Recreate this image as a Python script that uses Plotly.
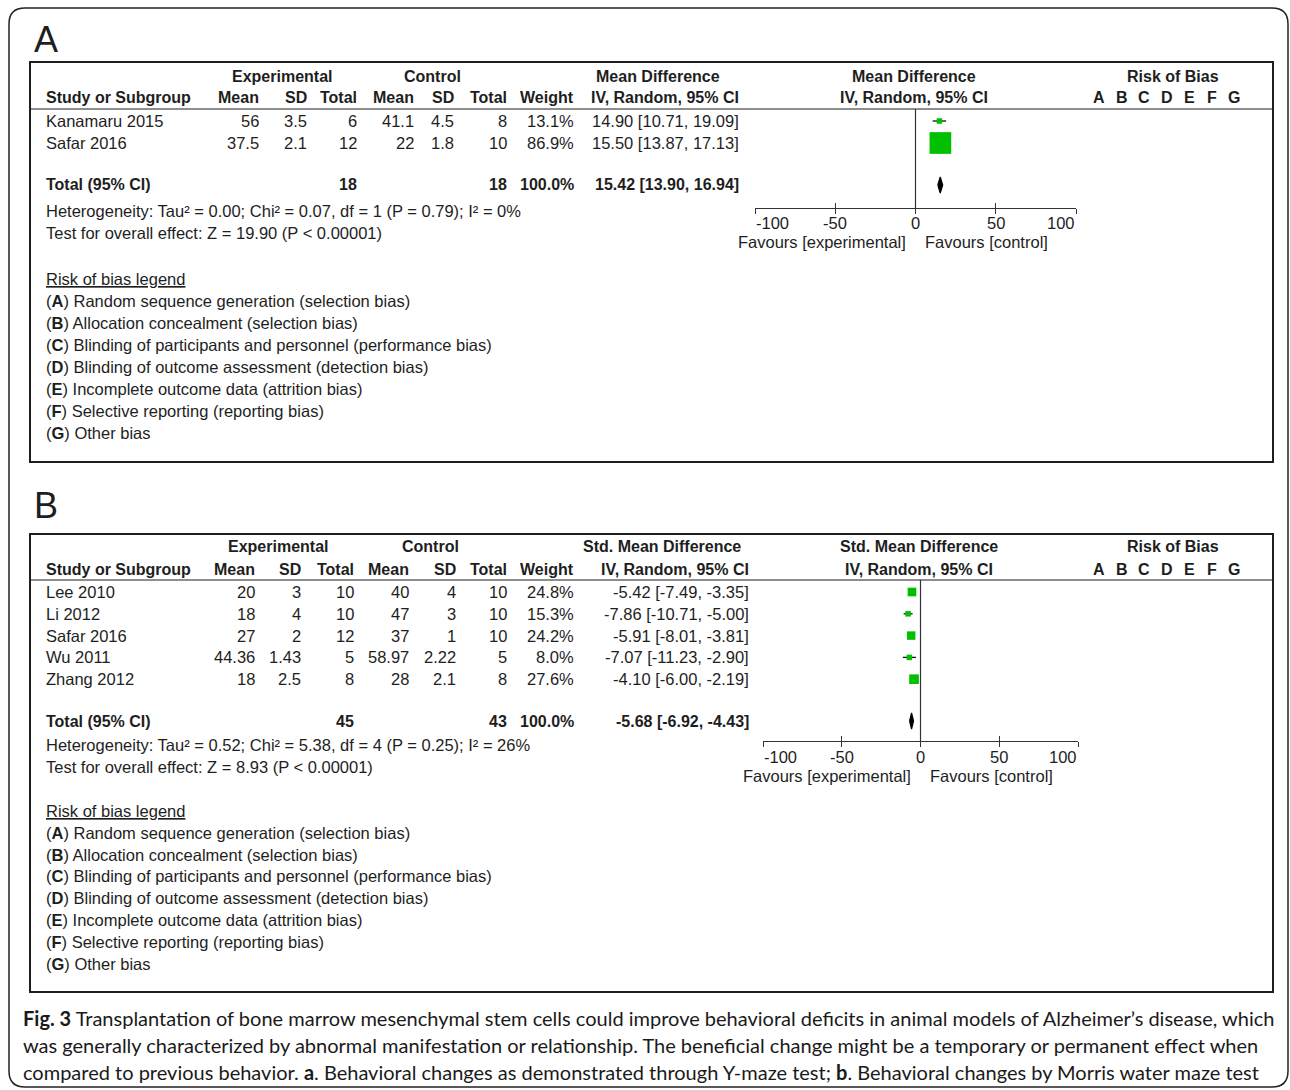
import plotly.graph_objects as go

W, H = 1290, 1090
TABLE_FONT = "Liberation Sans, Arial, sans-serif"
CAPTION_FONT = "Lato, Open Sans, sans-serif"
INK = "#1e1e1e"
GREEN = "#00c000"

# ---------------- Panel A data (Y-maze) ----------------
A_study = ["Kanamaru 2015", "Safar 2016"]
A_exp_mean = [56, 37.5]
A_exp_sd = [3.5, 2.1]
A_exp_n = [6, 12]
A_ctl_mean = [41.1, 22]
A_ctl_sd = [4.5, 1.8]
A_ctl_n = [8, 10]
A_weight = [13.1, 86.9]
A_est = [14.90, 15.50]
A_lo = [10.71, 13.87]
A_hi = [19.09, 17.13]
A_total_n = [18, 18]
A_total_weight = 100.0
A_total_ci = [15.42, 13.90, 16.94]
A_measure = "Mean Difference"
A_het = "Heterogeneity: Tau² = 0.00; Chi² = 0.07, df = 1 (P = 0.79); I² = 0%"
A_test = "Test for overall effect: Z = 19.90 (P &lt; 0.00001)"

# ---------------- Panel B data (Morris water maze) ----------------
B_study = ["Lee 2010", "Li 2012", "Safar 2016", "Wu 2011", "Zhang 2012"]
B_exp_mean = [20, 18, 27, 44.36, 18]
B_exp_sd = [3, 4, 2, 1.43, 2.5]
B_exp_n = [10, 10, 12, 5, 8]
B_ctl_mean = [40, 47, 37, 58.97, 28]
B_ctl_sd = [4, 3, 1, 2.22, 2.1]
B_ctl_n = [10, 10, 10, 5, 8]
B_weight = [24.8, 15.3, 24.2, 8.0, 27.6]
B_est = [-5.42, -7.86, -5.91, -7.07, -4.10]
B_lo = [-7.49, -10.71, -8.01, -11.23, -6.00]
B_hi = [-3.35, -5.00, -3.81, -2.90, -2.19]
B_total_n = [45, 43]
B_total_weight = 100.0
B_total_ci = [-5.68, -6.92, -4.43]
B_measure = "Std. Mean Difference"
B_het = "Heterogeneity: Tau² = 0.52; Chi² = 5.38, df = 4 (P = 0.25); I² = 26%"
B_test = "Test for overall effect: Z = 8.93 (P &lt; 0.00001)"

# ---------------- shared labels ----------------
COL_HEADERS = ["Mean", "SD", "Total", "Mean", "SD", "Total", "Weight"]
AXIS_TICKS = [-100, -50, 0, 50, 100]
ROB_LETTERS = ["A", "B", "C", "D", "E", "F", "G"]
ROB_LEGEND = [
    "Random sequence generation (selection bias)",
    "Allocation concealment (selection bias)",
    "Blinding of participants and personnel (performance bias)",
    "Blinding of outcome assessment (detection bias)",
    "Incomplete outcome data (attrition bias)",
    "Selective reporting (reporting bias)",
    "Other bias",
]
CAPTION = [
    "<b>Fig. 3</b> Transplantation of bone marrow mesenchymal stem cells could improve behavioral deficits in animal models of Alzheimer’s disease, which",
    "was generally characterized by abnormal manifestation or relationship. The beneficial change might be a temporary or permanent effect when",
    "compared to previous behavior. <b>a</b>. Behavioral changes as demonstrated through Y-maze test; <b>b</b>. Behavioral changes by Morris water maze test",
]

# ---------------- layout geometry (pixels) ----------------
GEOM_A = dict(letter_y=39, box=(30, 62, 1273, 462), sep=109, h1=76, h2=98,
              row0=121, pitch=22, total=185, het=211, test=233, leg0=279, leg_pitch=22,
              ax_l=755, ax_r=1076, ax_y=208, tick_y=223, fav=242,
              cols=[260, 308, 358, 415, 455, 508, 575], ci_r=740,
              exp_c=282, ctl_c=433, ci_c=658, plot_c=914, size_k=0.25)
GEOM_B = dict(letter_y=506, box=(30, 534, 1273, 992), sep=580, h1=547, h2=569,
              row0=592, pitch=21.8, total=721, het=745, test=767, leg0=811, leg_pitch=21.8,
              ax_l=763, ax_r=1078, ax_y=741, tick_y=757, fav=776,
              cols=[256, 302, 355, 410, 457, 508, 575], ci_r=750,
              exp_c=278, ctl_c=430, ci_c=662, plot_c=919, size_k=0.35)


def X(px):
    return px / W


def Y(py):
    return 1 - py / H


fig = go.Figure()
ann = []
shapes = []


def text(x, y, s, anchor="left", size=16.5, bold=False, family=TABLE_FONT, color=INK):
    if bold:
        s = f"<b>{s}</b>"
    ann.append(dict(x=X(x), y=Y(y), xref="paper", yref="paper", text=s, showarrow=False,
                    xanchor=anchor, yanchor="middle", borderpad=0,
                    font=dict(family=family, size=size, color=color)))


def fmt(v):
    return f"{v:g}"


def ci_txt(e, l, h):
    return f"{e:.2f} [{l:.2f}, {h:.2f}]"


def draw_panel(letter, g, measure, study, em, es, en, cm, cs, cn, wt, est, lo, hi,
               tot_n, tot_w, tot_ci, het, test, xname, yname, xin):
    text(33, g["letter_y"], letter, size=36, family="Liberation Sans, Arial")
    x0, y0, x1, y1 = g["box"]
    shapes.append(dict(type="rect", xref="paper", yref="paper", x0=X(x0), y0=Y(y0), x1=X(x1), y1=Y(y1),
                       line=dict(color=INK, width=2)))
    shapes.append(dict(type="line", xref="paper", yref="paper", x0=X(x0), x1=X(x1), y0=Y(g["sep"]), y1=Y(g["sep"]),
                       line=dict(color=INK, width=1.2)))
    cols = g["cols"]
    BS = 16
    # header row 1
    text(g["exp_c"], g["h1"], "Experimental", "center", BS, True)
    text(g["ctl_c"], g["h1"], "Control", "center", BS, True)
    text(g["ci_c"], g["h1"], measure, "center", BS, True)
    text(g["plot_c"], g["h1"], measure, "center", BS, True)
    text(1173, g["h1"], "Risk of Bias", "center", BS, True)
    # header row 2
    text(45, g["h2"], "Study or Subgroup", "left", BS, True)
    for c, hname in zip(cols, COL_HEADERS):
        text(c, g["h2"], hname, "right", BS, True)
    text(g["ci_r"], g["h2"], "IV, Random, 95% CI", "right", BS, True)
    text(g["plot_c"], g["h2"], "IV, Random, 95% CI", "center", BS, True)
    for i, L in enumerate(ROB_LETTERS):
        text(1099 + 22.5 * i, g["h2"], L, "center", BS, True)
    # study rows
    for i, name in enumerate(study):
        yy = g["row0"] + g["pitch"] * i
        text(45, yy, name)
        vals = [fmt(em[i]), fmt(es[i]), fmt(en[i]), fmt(cm[i]), fmt(cs[i]), fmt(cn[i]), f"{wt[i]:.1f}%"]
        for c, v in zip(cols, vals):
            text(c, yy, v, "right")
        text(g["ci_r"], yy, ci_txt(est[i], lo[i], hi[i]), "right")
    # total row
    ty = g["total"]
    text(45, ty, "Total (95% CI)", "left", BS, True)
    text(cols[2], ty, fmt(tot_n[0]), "right", BS, True)
    text(cols[5], ty, fmt(tot_n[1]), "right", BS, True)
    text(cols[6], ty, f"{tot_w:.1f}%", "right", BS, True)
    text(g["ci_r"], ty, ci_txt(*tot_ci), "right", BS, True)
    text(45, g["het"], het)
    text(45, g["test"], test)
    # risk of bias legend
    text(45, g["leg0"], "<u>Risk of bias legend</u>")
    for i, (L, item) in enumerate(zip(ROB_LETTERS, ROB_LEGEND)):
        text(45, g["leg0"] + g["leg_pitch"] * (i + 1), f"(<b>{L}</b>) {item}")

    # ---- forest plot ----
    n = len(study)
    r_top = (g["sep"] - g["row0"]) / g["pitch"]
    r_bot = (g["ax_y"] - g["row0"]) / g["pitch"]
    r_tot = (g["total"] - g["row0"]) / g["pitch"]
    # confidence-interval whiskers (drawn first, under the squares)
    cx, cy = [], []
    for i in range(n):
        cx += [lo[i], hi[i], None]
        cy += [i, i, None]
    fig.add_trace(go.Scatter(x=cx, y=cy, mode="lines", line=dict(color="#111", width=1.3),
                             xaxis=xname, yaxis=yname, hoverinfo="skip", showlegend=False))
    sizes = [max(5.5, g["size_k"] * w) for w in wt]
    fig.add_trace(go.Scatter(
        x=est, y=list(range(n)), mode="markers", xaxis=xname, yaxis=yname,
        marker=dict(symbol="square", size=sizes, color=GREEN, opacity=1, line=dict(width=0)),
        hoverinfo="skip", showlegend=False))
    e, l, h = tot_ci
    dh = 8 / g["pitch"]
    fig.add_trace(go.Scatter(
        x=[l, e, h, e, l], y=[r_tot, r_tot - dh, r_tot, r_tot + dh, r_tot],
        mode="lines", fill="toself", fillcolor="#000", line=dict(color="#000", width=1.2),
        xaxis=xname, yaxis=yname, hoverinfo="skip", showlegend=False))
    # invisible trace to register the inside-tick overlay axis
    fig.add_trace(go.Scatter(x=[0], y=[r_top], mode="markers", marker=dict(opacity=0),
                             xaxis=xin, yaxis=yname, hoverinfo="skip", showlegend=False))
    xref = xname
    shapes.append(dict(type="line", xref=xref, yref=f"{yname} domain", x0=0, x1=0, y0=0, y1=1,
                       line=dict(color="#333", width=1.2)))
    # tick labels (end labels aligned inward, as in the reference)
    for k, t in enumerate(AXIS_TICKS):
        anc = "left" if k == 0 else ("right" if k == len(AXIS_TICKS) - 1 else "center")
        ann.append(dict(x=t, y=Y(g["tick_y"]), xref=xref, yref="paper", xanchor=anc, yanchor="middle",
                        showarrow=False, text=fmt(t), borderpad=0,
                        font=dict(family=TABLE_FONT, size=16.5, color=INK)))
    ann.append(dict(x=0, y=Y(g["fav"]), xref=xref, yref="paper", xanchor="right", yanchor="middle",
                    xshift=-9, showarrow=False, text="Favours [experimental]", borderpad=0,
                    font=dict(family=TABLE_FONT, size=16.5, color=INK)))
    ann.append(dict(x=0, y=Y(g["fav"]), xref=xref, yref="paper", xanchor="left", yanchor="middle",
                    xshift=8, showarrow=False, text="Favours [control]", borderpad=0,
                    font=dict(family=TABLE_FONT, size=16.5, color=INK)))
    dom_x = [X(g["ax_l"]), X(g["ax_r"])]
    dom_y = [Y(g["ax_y"]), Y(g["sep"])]
    axkey = "xaxis" + xname[1:]
    aykey = "yaxis" + yname[1:]
    inkey = "xaxis" + xin[1:]
    common = dict(domain=dom_x, range=[-100, 100], tickvals=AXIS_TICKS, showticklabels=False,
                  showgrid=False, zeroline=False,
                  tickcolor="#333", tickwidth=1.3, ticklen=5, fixedrange=True)
    fig.update_layout(**{
        axkey: dict(common, anchor=yname, showline=True, linecolor="#333", linewidth=1.3,
                    ticks="outside"),
        inkey: dict(common, anchor=yname, overlaying=xname, side="bottom", ticks="inside",
                    showline=False),
        aykey: dict(domain=dom_y, range=[r_bot, r_top], visible=False, fixedrange=True),
    })


draw_panel("A", GEOM_A, A_measure, A_study, A_exp_mean, A_exp_sd, A_exp_n, A_ctl_mean, A_ctl_sd,
           A_ctl_n, A_weight, A_est, A_lo, A_hi, A_total_n, A_total_weight, A_total_ci,
           A_het, A_test, "x", "y", "x3")
draw_panel("B", GEOM_B, B_measure, B_study, B_exp_mean, B_exp_sd, B_exp_n, B_ctl_mean, B_ctl_sd,
           B_ctl_n, B_weight, B_est, B_lo, B_hi, B_total_n, B_total_weight, B_total_ci,
           B_het, B_test, "x2", "y2", "x4")

# caption
for i, line in enumerate(CAPTION):
    text(22, 1018 + 27 * i, line, "left", 20, False, CAPTION_FONT, "#1a1a1a")

# outer rounded frame
l, t, r, b, rad = 9, 8, 1288, 1087, 16
path = (f"M {X(l)},{Y(b - rad)} L {X(l)},{Y(t + rad)} Q {X(l)},{Y(t)} {X(l + rad)},{Y(t)} "
        f"L {X(r - rad)},{Y(t)} Q {X(r)},{Y(t)} {X(r)},{Y(t + rad)} "
        f"L {X(r)},{Y(b - rad)} Q {X(r)},{Y(b)} {X(r - rad)},{Y(b)} "
        f"L {X(l + rad)},{Y(b)} Q {X(l)},{Y(b)} {X(l)},{Y(b - rad)} Z")
shapes.append(dict(type="path", xref="paper", yref="paper", path=path, line=dict(color="#222", width=1.5)))

fig.update_layout(width=W, height=H, margin=dict(l=0, r=0, t=0, b=0), autosize=False,
                  paper_bgcolor="white", plot_bgcolor="white",
                  annotations=ann, shapes=shapes, showlegend=False)

# make the 1290x1090 figure fill the 1290x1090 window exactly (no body margin / scrollbars)
POST = ("document.documentElement.style.overflow='hidden';"
        "document.body.style.margin='0';document.body.style.overflow='hidden';"
        "var gd=document.getElementById('{plot_id}');"
        "Plotly.relayout(gd,{width:%d,height:%d});" % (W, H))
fig.write_html("out.html", post_script=POST, config={"displayModeBar": False})
